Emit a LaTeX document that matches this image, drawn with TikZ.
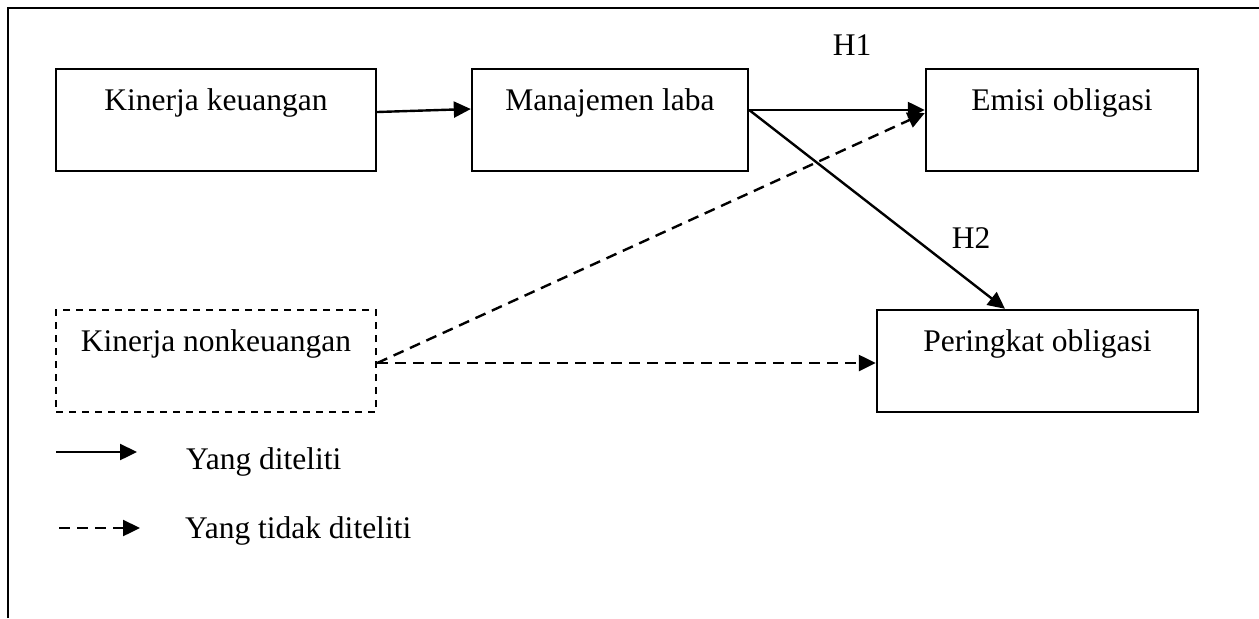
\documentclass[tikz,border=0pt]{standalone}
\usepackage{fontspec}
\setmainfont{Liberation Serif}
\usetikzlibrary{arrows.meta}

\begin{document}
\begin{tikzpicture}[x=0.5pt, y=-0.5pt, line width=1.2pt,
    tip/.style={-{Triangle[length=8.5pt, width=8pt]}},
    box/.style={draw, inner sep=0pt, minimum width=#1, text height=20.5pt, text depth=30.5pt},
    box/.default=160pt,
    notstudied/.style={dash pattern=on 5.5pt off 3.5pt},
    every node/.style={font=\fontsize{15.75}{19}\selectfont}]
  \useasboundingbox (0, 0) rectangle (1259, 618);
  \draw (8, 618) -- (8, 8) -- (1259, 8);

  \node [box] (kk) at (216, 120) {Kinerja keuangan};
  \node [box=138pt] (ml) at (610, 120) {Manajemen laba};
  \node [box=136pt] (eo) at (1062, 120) {Emisi obligasi};
  \node [box, dash pattern=on 3.5pt off 3pt] (kn) at (216, 361) {Kinerja nonkeuangan};
  \node [box=160.5pt] (po) at (1037.5, 361) {Peringkat obligasi};

  \node (h1) at (852, 45) {H1};
  \node (h2) at (971, 238) {H2};

  \draw [tip] ([yshift=4pt]kk.east) -- ([yshift=5.5pt]ml.west);
  \draw [tip] ([yshift=5pt]ml.east) -- ([yshift=5pt]eo.west);
  \draw [tip] ([yshift=5pt]ml.east) -- ([xshift=-16.25pt]po.north);
  \draw [tip, notstudied] ([yshift=-1pt]kn.east) -- ([yshift=3.5pt]eo.west);
  \draw [tip, notstudied] ([yshift=-1pt]kn.east) -- ([yshift=-1pt]po.west);

  \coordinate (s1) at (56, 452);
  \coordinate (s2) at (137, 452);
  \coordinate (d1) at (59, 528);
  \coordinate (d2) at (140, 528);
  \draw [tip] (s1) -- (s2);
  \draw [tip, notstudied] (d1) -- (d2);
  \node [anchor=base west, inner sep=0pt] (yd) at (185, 469) {Yang diteliti};
  \node [anchor=base west, inner sep=0pt] (ytd) at (184, 538) {Yang tidak diteliti};
\end{tikzpicture}
\end{document}
